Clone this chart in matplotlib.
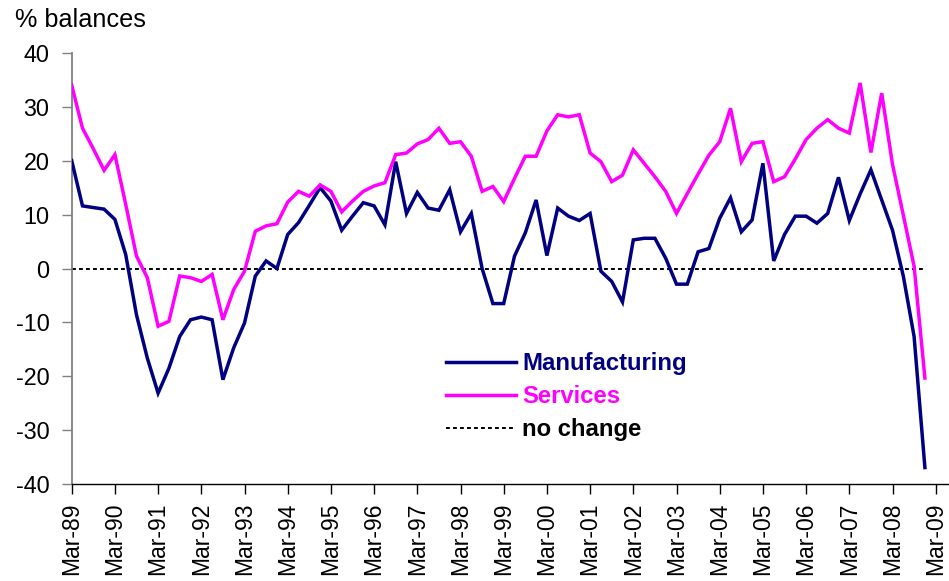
import matplotlib
matplotlib.use("Agg")
import matplotlib.pyplot as plt
from matplotlib.lines import Line2D

plt.rcParams['font.family'] = ['Liberation Sans', 'DejaVu Sans']

# Quarterly balances, Mar-89 .. Dec-08
manufacturing = [
    20.0, 11.6, 11.3, 11.0, 9.1, 2.6, -8.6, -16.6, -23.1, -18.5,
    -12.6, -9.5, -9.0, -9.5, -20.6, -14.7, -10.1, -1.4, 1.4, 0.0,
    6.3, 8.5, 11.7, 15.0, 12.5, 7.1, 9.7, 12.2, 11.6, 8.1,
    19.8, 10.2, 14.1, 11.2, 10.8, 14.6, 6.8, 10.2, 0.0, -6.5,
    -6.5, 2.3, 6.6, 12.7, 2.4, 11.2, 9.7, 8.9, 10.2, -0.5,
    -2.4, -6.2, 5.3, 5.6, 5.6, 1.9, -2.9, -2.9, 3.1, 3.7,
    9.3, 13.1, 6.8, 9.0, 19.5, 1.4, 6.3, 9.7, 9.7, 8.4,
    10.2, 16.9, 8.9, 13.8, 18.3, 12.7, 7.1, -1.4, -12.6, -36.9,
]
services = [
    34.0, 26.0, 22.2, 18.2, 21.1, 11.9, 2.3, -1.7, -10.7, -9.8,
    -1.4, -1.7, -2.4, -1.1, -9.5, -3.9, -0.5, 6.9, 7.9, 8.3,
    12.3, 14.3, 13.4, 15.5, 14.3, 10.5, 12.5, 14.3, 15.3, 15.9,
    21.1, 21.4, 23.1, 23.9, 26.0, 23.2, 23.5, 20.8, 14.3, 15.2,
    12.4, 16.7, 20.8, 20.8, 25.5, 28.5, 28.1, 28.5, 21.4, 19.8,
    16.1, 17.3, 22.0, 19.5, 17.0, 14.3, 10.2, 13.9, 17.5, 21.0,
    23.5, 29.7, 19.8, 23.2, 23.5, 16.1, 17.0, 20.3, 23.9, 26.0,
    27.6, 26.0, 25.1, 34.4, 21.5, 32.5, 19.3, 9.9, 0.4, -20.3,
]
no_change = [0.0] * len(manufacturing)

year_labels = ['Mar-89', 'Mar-90', 'Mar-91', 'Mar-92', 'Mar-93', 'Mar-94',
               'Mar-95', 'Mar-96', 'Mar-97', 'Mar-98', 'Mar-99', 'Mar-00',
               'Mar-01', 'Mar-02', 'Mar-03', 'Mar-04', 'Mar-05', 'Mar-06',
               'Mar-07', 'Mar-08', 'Mar-09']
y_ticks = [-40, -30, -20, -10, 0, 10, 20, 30, 40]

W, H = 949, 581
fig = plt.figure(figsize=(W / 100, H / 100), dpi=100)
left, right = 71.7 / W, 1.0
bottom, top = 1 - 484.3 / H, 1 - 52.7 / H
ax = fig.add_axes([left, bottom, right - left, top - bottom])

x = list(range(len(manufacturing)))
ax.plot(x, no_change, color='black', lw=1.4, linestyle=(0, (2, 1.6)),
        label='no change', zorder=2)
ax.plot(x, manufacturing, color='#000080', lw=2.5, label='Manufacturing',
        zorder=3, solid_joinstyle='miter')
ax.plot(x, services, color='#FF00FF', lw=2.5, label='Services', zorder=3,
        solid_joinstyle='miter')

ax.set_xlim(0, (W - 71.7) / 10.8)
ax.set_ylim(-40, 40)
ax.set_xticks([4 * k for k in range(len(year_labels))])
ax.set_xticklabels(year_labels, rotation=90, fontsize=16.5)
ax.set_yticks(y_ticks)
ax.set_yticklabels([str(v) for v in y_ticks], fontsize=16.8)

for s in ['top', 'right']:
    ax.spines[s].set_visible(False)
ax.spines['left'].set_color('#808080')
ax.spines['left'].set_linewidth(1.3)
ax.spines['bottom'].set_color('black')
ax.spines['bottom'].set_linewidth(1.0)
ax.tick_params(axis='y', direction='out', length=7, width=1.0, color='#808080',
               pad=9)
ax.tick_params(axis='x', direction='out', length=7, width=1.0, color='black',
               pad=6)

fig.text(15 / W, 1 - 26.7 / H, '% balances', fontsize=18.2, va='baseline',
         ha='left')

handles = [
    Line2D([], [], color='#000080', lw=2.5),
    Line2D([], [], color='#FF00FF', lw=2.5),
    Line2D([], [], color='black', lw=1.4, linestyle=(0, (2, 1.6))),
]
leg = ax.legend(handles, ['Manufacturing', 'Services', 'no change'],
                loc='upper left', bbox_to_anchor=(446 / W, 1 - 352 / H),
                bbox_transform=fig.transFigure, frameon=False,
                prop={'weight': 'bold', 'size': 17.2}, handlelength=2.95,
                handletextpad=0.25, labelspacing=0.42, borderpad=0,
                borderaxespad=0)
for txt, c in zip(leg.get_texts(), ['#000080', '#FF00FF', 'black']):
    txt.set_color(c)

fig.savefig('out.png', dpi=100)
